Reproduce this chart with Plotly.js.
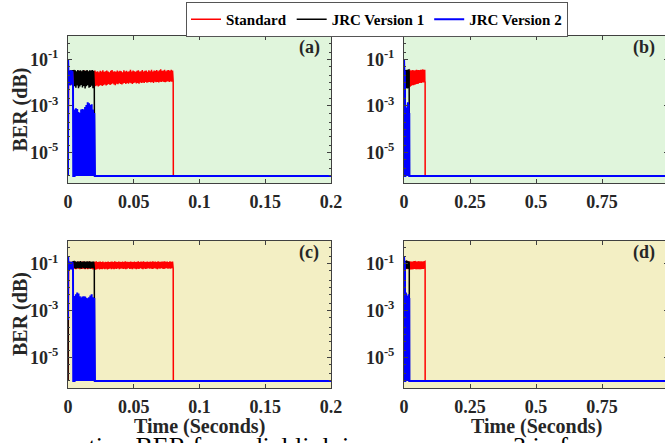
<!DOCTYPE html>
<html><head><meta charset="utf-8">
<script src="https://cdn.plot.ly/plotly-3.0.1.min.js"></script>
<style>html,body{margin:0;padding:0;overflow:hidden;background:#fff}#chart{width:672px;height:443px}</style>
</head><body><div id="chart"></div>
<script>
// ---------- labels / ticks ----------
const seriesNames = ['Standard', 'JRC Version 1', 'JRC Version 2'];
const seriesColors = ['#ff0000', '#000000', '#0000ff'];
const xTicksLeft = [0, 0.05, 0.1, 0.15, 0.2];
const xTickTextLeft = ['0', '0.05', '0.1', '0.15', '0.2'];
const xTicksRight = [0, 0.25, 0.5, 0.75, 1];
const xTickTextRight = ['0', '0.25', '0.5', '0.75', '1'];
const yTicks = [1e-1, 1e-3, 1e-5];
const yTickText = ['10<sup>-1</sup>', '10<sup>-3</sup>', '10<sup>-5</sup>'];
const panelLabels = ['(a)', '(b)', '(c)', '(d)'];
const xTitle = 'Time (Seconds)';
const yTitle = 'BER (dB)';
const captionParts = ['ation BER for radial link in', '3 in f'];
const berFloor = 1e-6;          // settled BER level
const bandStep = 0.001;         // envelope samples every 1 ms

// ---------- scenario 1 (panels a, b) ----------
const s1StdStartT = [0, 0.0002];
const s1StdStartV = [1e-6, 0.03];
const s1StdBandT0 = 0.0005;
const s1StdHi = [0.030,0.032,0.029,0.031,0.033,0.030,0.028,0.031,0.032,0.030,
  0.029,0.031,0.033,0.030,0.032,0.029,0.031,0.030,0.032,0.031,
  0.033,0.029,0.031,0.028,0.032,0.030,0.034,0.029,0.031,0.033,
  0.030,0.028,0.032,0.035,0.030,0.031,0.029,0.033,0.030,0.032,
  0.031,0.028,0.034,0.030,0.032,0.029,0.031,0.036,0.030,0.033,
  0.031,0.029,0.032,0.034,0.030,0.031,0.035,0.030,0.032,0.033,
  0.029,0.034,0.031,0.036,0.030,0.033,0.032,0.035,0.031,0.034,
  0.037,0.032,0.033,0.036,0.031,0.034,0.035,0.032,0.036,0.033];
const s1StdLo = [0.008,0.009,0.008,0.0085,0.009,0.008,0.0085,0.009,0.008,0.0085,
  0.009,0.008,0.0085,0.009,0.008,0.0085,0.009,0.008,0.0085,0.008,
  0.0070,0.0076,0.0068,0.0074,0.0080,0.0072,0.0078,0.0084,0.0076,0.0082,
  0.0088,0.0080,0.0086,0.0092,0.0084,0.0078,0.0090,0.0086,0.0094,0.0088,
  0.0083,0.0093,0.0098,0.0088,0.0096,0.0090,0.0100,0.0094,0.0088,0.0098,
  0.0102,0.0093,0.0098,0.0090,0.0101,0.0096,0.0103,0.0098,0.0106,0.0100,
  0.0104,0.0108,0.0101,0.0106,0.0098,0.0110,0.0104,0.0108,0.0102,0.0111,
  0.0106,0.0112,0.0108,0.0104,0.0110,0.0114,0.0108,0.0112,0.0109,0.0112];
const s1StdEndT = [0.0801, 1.0];
const s1StdEndV = [1e-6, 1e-6];
const s1V1StartT = [0, 0.0002];
const s1V1StartV = [1e-6, 0.03];
const s1V1BandT0 = 0.0045;
const s1V1Hi = [0.033,0.034,0.031,0.035,0.032,0.034,0.031,0.035,0.033,0.032,0.035,0.031,0.034,0.033,0.035,0.032];
const s1V1Lo = [0.0070,0.0060,0.0075,0.0058,0.0068,0.0080,0.0062,0.0072,0.0056,0.0070,0.0078,0.0060,0.0066,0.0074,0.0058,0.0064];
const s1V1EndT = [0.0202, 1.0];
const s1V1EndV = [1e-6, 1e-6];
const s1V2StartT = [0, 0.0001];
const s1V2StartV = [1e-6, 0.1];
const s1V2BandT0 = 0.0003;
const s1V2Hi = [0.033, 0.031, 0.034, 0.032];
const s1V2Lo = [0.008, 0.0075, 0.0085, 0.008];
const s1V2DropT = [0.0040, 0.0050];
const s1V2DropV = [1e-6, 1e-6];
const s1V2FillT0 = 0.0050;
const s1V2FillHi = [7e-4,8e-4,7.5e-4,5.5e-4,5e-4,7e-4,7.5e-4,7e-4,9e-4,1.1e-3,1.45e-3,1.3e-3,1.1e-3,1.2e-3,7e-4,5e-4];
const s1V2EndT = [1.0];
const s1V2EndV = [1e-6];

// ---------- scenario 2 (panels c, d) ----------
const s2StdStartT = [0, 0.0002];
const s2StdStartV = [1e-6, 0.1];
const s2StdBandT0 = 0.0005;
const s2StdHi = [0.120,0.124,0.118,0.122,0.126,0.119,0.123,0.121,0.125,0.118,
  0.122,0.127,0.120,0.124,0.119,0.123,0.126,0.121,0.118,0.124,
  0.122,0.128,0.119,0.123,0.125,0.120,0.126,0.118,0.124,0.121,
  0.127,0.120,0.123,0.125,0.119,0.128,0.122,0.120,0.126,0.123,
  0.119,0.125,0.121,0.129,0.122,0.124,0.120,0.127,0.123,0.121,
  0.126,0.119,0.124,0.128,0.121,0.125,0.122,0.130,0.120,0.124,
  0.127,0.121,0.125,0.123,0.129,0.122,0.126,0.120,0.128,0.124,
  0.122,0.127,0.125,0.130,0.123,0.126,0.121,0.128,0.124,0.126];
const s2StdLo = [0.062,0.060,0.064,0.061,0.063,0.059,0.062,0.065,0.060,0.063,
  0.061,0.064,0.059,0.062,0.060,0.063,0.065,0.061,0.058,0.062,
  0.057,0.060,0.062,0.058,0.061,0.059,0.063,0.060,0.062,0.058,
  0.061,0.064,0.060,0.062,0.059,0.063,0.061,0.065,0.060,0.062,
  0.064,0.061,0.063,0.060,0.062,0.065,0.061,0.063,0.060,0.064,
  0.062,0.060,0.063,0.061,0.065,0.062,0.060,0.064,0.061,0.063,
  0.066,0.062,0.064,0.061,0.063,0.065,0.062,0.060,0.064,0.062,
  0.065,0.063,0.061,0.064,0.066,0.062,0.064,0.063,0.065,0.064];
const s2StdEndT = [0.0801, 1.0];
const s2StdEndV = [1e-6, 1e-6];
const s2V1StartT = [0, 0.0002];
const s2V1StartV = [1e-6, 0.1];
const s2V1BandT0 = 0.0045;
const s2V1Hi = [0.125,0.130,0.122,0.128,0.124,0.131,0.123,0.127,0.129,0.122,0.128,0.125,0.130,0.123,0.127,0.126];
const s2V1Lo = [0.066,0.062,0.068,0.064,0.067,0.063,0.069,0.065,0.062,0.068,0.064,0.066,0.063,0.067,0.065,0.068];
const s2V1EndT = [0.0202, 1.0];
const s2V1EndV = [1e-6, 1e-6];
const s2V2StartT = [0, 0.0001];
const s2V2StartV = [4e-4, 0.2];
const s2V2BandT0 = 0.0003;
const s2V2Hi = [0.12, 0.125, 0.118, 0.122];
const s2V2Lo = [0.055, 0.06, 0.058, 0.056];
const s2V2DropT = [0.0040, 0.0050];
const s2V2DropV = [1e-6, 1e-6];
const s2V2FillT0 = 0.0050;
const s2V2FillHi = [4.3e-3,5e-3,6e-3,5.5e-3,4.2e-3,3.7e-3,4e-3,4.2e-3,4e-3,3.6e-3,3.4e-3,3.8e-3,4.5e-3,5e-3,3.8e-3,3.5e-3];
const s2V2EndT = [1.0];
const s2V2EndV = [1e-6];

// ---------- build helpers ----------
function pts(t, v) { return {t: t, v: v}; }
function band(t0, hi, lo) { return {t0: t0, hi: hi, lo: lo}; }
function build(parts) {
  const x = [], y = [];
  parts.forEach(p => {
    if (p.hi) {
      p.hi.forEach((h, i) => {
        x.push(p.t0 + i * bandStep); y.push(h);
        x.push(p.t0 + (i + 0.5) * bandStep); y.push(Array.isArray(p.lo) ? p.lo[i] : p.lo);
      });
    } else { x.push(...p.t); y.push(...p.v); }
  });
  return {x, y};
}
const scenarios = [
  [
    build([pts(s1StdStartT, s1StdStartV), band(s1StdBandT0, s1StdHi, s1StdLo), pts(s1StdEndT, s1StdEndV)]),
    build([pts(s1V1StartT, s1V1StartV), band(s1V1BandT0, s1V1Hi, s1V1Lo), pts(s1V1EndT, s1V1EndV)]),
    build([pts(s1V2StartT, s1V2StartV), band(s1V2BandT0, s1V2Hi, s1V2Lo), pts(s1V2DropT, s1V2DropV),
           band(s1V2FillT0, s1V2FillHi, berFloor), pts(s1V2EndT, s1V2EndV)])
  ],
  [
    build([pts(s2StdStartT, s2StdStartV), band(s2StdBandT0, s2StdHi, s2StdLo), pts(s2StdEndT, s2StdEndV)]),
    build([pts(s2V1StartT, s2V1StartV), band(s2V1BandT0, s2V1Hi, s2V1Lo), pts(s2V1EndT, s2V1EndV)]),
    build([pts(s2V2StartT, s2V2StartV), band(s2V2BandT0, s2V2Hi, s2V2Lo), pts(s2V2DropT, s2V2DropV),
           band(s2V2FillT0, s2V2FillHi, berFloor), pts(s2V2EndT, s2V2EndV)])
  ]
];

// ---------- layout ----------
const W = 672, H = 443;
const FONT = 'Liberation Serif';
const AX = '#404040';
const xDom = [[68 / W, 331 / W], [404 / W, 668 / W]];
const yDom = [[1 - 183 / H, 1 - 36 / H], [1 - 388 / H, 1 - 240.5 / H]];
const bgColors = ['#e0f5dc', '#f3efc4'];

const traces = [];
const layout = {
  width: W, height: H,
  margin: {l: 0, r: 0, t: 0, b: 0},
  paper_bgcolor: '#ffffff', plot_bgcolor: 'rgba(0,0,0,0)',
  showlegend: true,
  legend: {orientation: 'h', x: 377 / W, xanchor: 'center', y: 1 - 2 / H, yanchor: 'top',
    font: {family: FONT, size: 15, weight: 'bold', color: '#000'},
    bordercolor: '#555', borderwidth: 1, bgcolor: '#fff', itemwidth: 30, tracegroupgap: 0},
  shapes: [], annotations: []
};
const tickFont = {family: FONT, size: 18, weight: 'bold', color: '#262626'};
const titleFont = {family: FONT, size: 20, weight: 'bold', color: '#262626'};

for (let k = 0; k < 4; k++) {
  const row = Math.floor(k / 2), col = k % 2;
  const sfx = k === 0 ? '' : String(k + 1);
  const data = scenarios[row];
  data.forEach((s, i) => {
    traces.push({x: s.x, y: s.y, type: 'scatter', mode: 'lines', name: seriesNames[i],
      xaxis: 'x' + sfx, yaxis: 'y' + sfx, legendgroup: seriesNames[i], showlegend: k === 0,
      line: {color: seriesColors[i], width: i === 2 ? 2 : 1.5}});
  });
  layout['xaxis' + sfx] = {
    domain: xDom[col], anchor: 'y' + sfx, range: col === 0 ? [0, 0.2] : [0, 1],
    tickmode: 'array', tickvals: col === 0 ? xTicksLeft : xTicksRight,
    ticktext: col === 0 ? xTickTextLeft : xTickTextRight,
    ticks: 'inside', ticklen: 4, tickcolor: AX, showline: true, mirror: 'ticks',
    linecolor: AX, linewidth: 1, showgrid: false, zeroline: false,
    tickfont: tickFont, ticklabelstandoff: 2
  };
  layout['yaxis' + sfx] = {
    domain: yDom[row], anchor: 'x' + sfx, type: 'log', range: [Math.log10(5e-7), 0],
    tickmode: 'array', tickvals: yTicks, ticktext: yTickText,
    ticks: 'inside', ticklen: 4, tickcolor: AX, showline: true, mirror: 'ticks',
    linecolor: AX, linewidth: 1, showgrid: false, zeroline: false,
    minor: {ticks: 'inside', ticklen: 2, tickcolor: AX, showgrid: false},
    tickfont: tickFont, ticklabelstandoff: 5
  };
  layout.shapes.push({type: 'rect', xref: 'x' + sfx + ' domain', yref: 'y' + sfx + ' domain',
    x0: 0, x1: 1, y0: 0, y1: 1, fillcolor: bgColors[row], line: {width: 0}, layer: 'below'});
  layout.annotations.push({text: panelLabels[k], xref: 'paper', yref: 'paper',
    x: (col === 0 ? 309 : 643.5) / W, y: 1 - (row === 0 ? 48 : 252.5) / H,
    xanchor: 'center', yanchor: 'middle', showarrow: false,
    font: {family: FONT, size: 18, weight: 'bold', color: '#262626'}});
  if (col === 0) {
    layout.annotations.push({text: yTitle, xref: 'paper', yref: 'paper', textangle: -90,
      x: 20 / W, y: 1 - (row === 0 ? 109.5 : 314) / H, xanchor: 'center', yanchor: 'middle',
      showarrow: false, font: titleFont});
  }
  if (row === 1) {
    layout.annotations.push({text: xTitle, xref: 'paper', yref: 'paper',
      x: (col === 0 ? 199.5 : 536) / W, y: 1 - 426 / H, xanchor: 'center', yanchor: 'middle',
      showarrow: false, font: titleFont});
  }
}
// partially visible figure caption below the chart
layout.annotations.push({text: captionParts[0], xref: 'paper', yref: 'paper',
  x: 75 / W, y: 1 - 430 / H, xanchor: 'left', yanchor: 'top', showarrow: false,
  font: {family: FONT, size: 26, color: '#000'}});
layout.annotations.push({text: captionParts[1], xref: 'paper', yref: 'paper',
  x: 511 / W, y: 1 - 430 / H, xanchor: 'left', yanchor: 'top', showarrow: false,
  font: {family: FONT, size: 26, color: '#000'}});

Plotly.newPlot('chart', traces, layout, {staticPlot: true, displayModeBar: false});
</script></body></html>
